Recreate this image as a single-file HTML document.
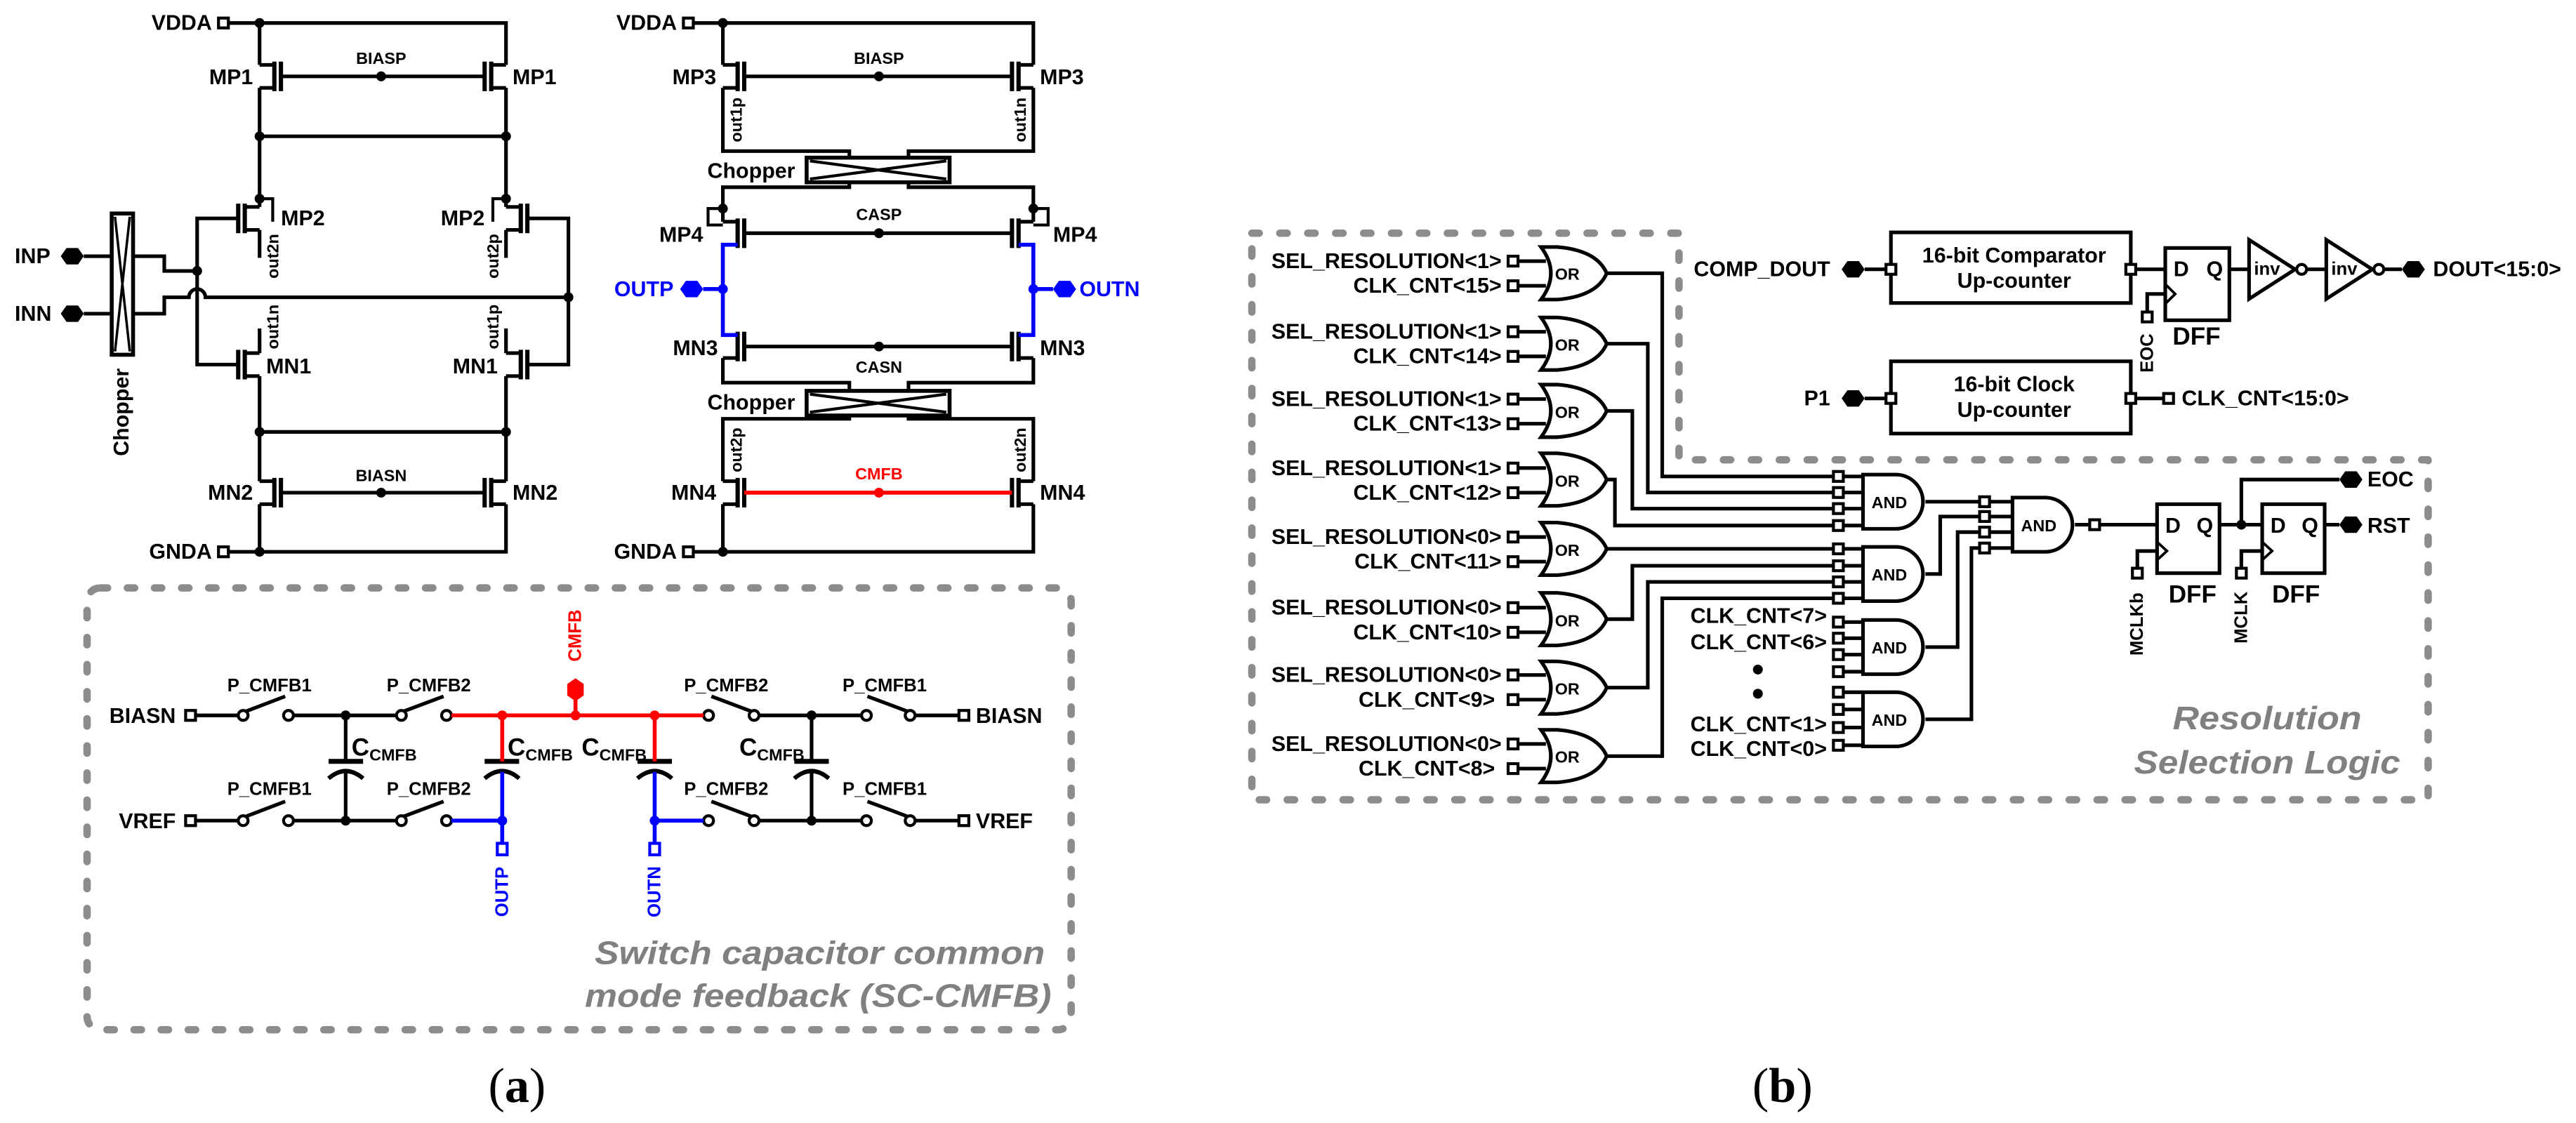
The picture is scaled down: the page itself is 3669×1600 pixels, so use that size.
<!DOCTYPE html>
<html><head><meta charset="utf-8"><style>
html,body{margin:0;padding:0;background:#fff;}
svg{display:block;}
text{font-family:"Liberation Sans",Arial,sans-serif;font-weight:bold;}
</style></head><body>
<svg width="3669" height="1600" viewBox="0 0 1568 683.8" preserveAspectRatio="none" xmlns="http://www.w3.org/2000/svg">
<defs>
<g id="t" fill="none" stroke="#000"><path d="M0,-7H9M0,7H9" stroke-width="2.2"/><path d="M9,-9V9M13,-9V9" stroke-width="2.6"/></g>
<polygon id="hx" points="-7,0 -3.5,-5 3.5,-5 7,0 3.5,5 -3.5,5"/>
<polygon id="hv" points="0,-7 -5,-3.5 -5,3.5 0,7 5,3.5 5,-3.5"/>
<rect id="sq" x="-3" y="-3" width="6" height="6" fill="#fff" stroke="#000" stroke-width="1.8"/>
<g id="org" fill="none" stroke="#000" stroke-width="2.2"><path d="M-3,-16 H7 Q31,-14 37,0 Q31,14 7,16 H-3 Q9,0 -3,-16Z" fill="#fff"/></g>
<g id="andg" fill="none" stroke="#000" stroke-width="2.2"><path d="M0,-16.5 H20 A16.5,16.5 0 0 1 20,16.5 H0Z" fill="#fff"/></g>
</defs>

<!-- ============ LEFT AMP ============ -->
<g fill="none" stroke="#000" stroke-width="2.2">
<path d="M139,14 H308 V39.5 M158,14 V39.5 M158,53.5 V126 M308,53.5 V126 M158,83 H308"/>
<path d="M158,140 V157 M308,140 V157 M158,200 V215 M308,200 V215 M158,229 V293 M308,229 V293 M158,263 H308"/>
<path d="M158,307 V336 M139,336 H308 V307"/>
<path d="M171,46.5 H295 M171,300 H295"/>
<path d="M145,133 H120 V222 H145 M321,133 H346 V222 H321"/>
<path d="M51,156 H68 M51,191 H68 M81,156 H100 V165 H120 M81,191 H100 V181 H115 A5,5 0 0 1 125,181 H346"/>
<path d="M158,121 H166 V135 M308,121 H300 V135" stroke-width="1.8"/>
<rect x="68" y="130" width="13" height="86" stroke-width="2.4"/>
<path d="M70,132 L79,214 M79,132 L70,214" stroke-width="1.5"/>
</g>
<use href="#t" transform="translate(158,46.5)"/>
<use href="#t" transform="translate(308,46.5) scale(-1,1)"/>
<use href="#t" transform="translate(158,133) scale(-1,1)"/>
<use href="#t" transform="translate(308,133)"/>
<use href="#t" transform="translate(158,222) scale(-1,1)"/>
<use href="#t" transform="translate(308,222)"/>
<use href="#t" transform="translate(158,300)"/>
<use href="#t" transform="translate(308,300) scale(-1,1)"/>
<g fill="#000">
<circle cx="158" cy="14" r="3"/><circle cx="158" cy="83" r="3"/><circle cx="308" cy="83" r="3"/>
<circle cx="158" cy="263" r="3"/><circle cx="308" cy="263" r="3"/><circle cx="158" cy="336" r="3"/>
<circle cx="232" cy="46.5" r="3"/><circle cx="232" cy="300" r="3"/><circle cx="120" cy="165" r="3"/>
<circle cx="346" cy="181" r="3"/><circle cx="158" cy="121" r="3"/><circle cx="308" cy="121" r="3"/>
<use href="#hx" x="44" y="156"/><use href="#hx" x="44" y="191"/>
</g>
<use href="#sq" x="136" y="14"/><use href="#sq" x="136" y="336"/>
<g font-size="13" dominant-baseline="central">
<text x="129" y="14" text-anchor="end">VDDA</text>
<text x="129" y="336" text-anchor="end">GNDA</text>
<text x="154" y="47" text-anchor="end">MP1</text>
<text x="312" y="47">MP1</text>
<text x="171" y="133">MP2</text>
<text x="295" y="133" text-anchor="end">MP2</text>
<text x="162" y="223">MN1</text>
<text x="303" y="223" text-anchor="end">MN1</text>
<text x="154" y="300" text-anchor="end">MN2</text>
<text x="312" y="300">MN2</text>
<text x="9" y="156">INP</text>
<text x="9" y="191">INN</text>
</g>
<g font-size="10" text-anchor="middle">
<text x="232" y="39">BIASP</text>
<text x="232" y="293">BIASN</text>
</g>
<g font-size="10" dominant-baseline="central" text-anchor="middle">
<text transform="translate(166,156) rotate(-90)">out2n</text>
<text transform="translate(166,199) rotate(-90)">out1n</text>
<text transform="translate(300,156) rotate(-90)">out2p</text>
<text transform="translate(300,199) rotate(-90)">out1p</text>
<text transform="translate(74,251) rotate(-90)" font-size="13">Chopper</text>
</g>

<!-- ============ RIGHT AMP ============ -->
<g fill="none" stroke="#000" stroke-width="2.2">
<path d="M422,14 H629 V39.5 M440,14 V39.5"/>
<path d="M440,53.5 V92 H517 V96 M629,53.5 V92 H553 V96"/>
<path d="M517,111 V114 H440 V135 M553,111 V114 H629 V135"/>
<path d="M453,46.5 H616 M453,142 H616 M453,211 H616"/>
<path d="M440,218 V233 H517 V238 M629,218 V233 H553 V238"/>
<path d="M517,252 V255 H440 V293 M553,252 V255 H629 V293"/>
<path d="M440,307 V336 M422,336 H629 V307"/>
<path d="M440,127 H431 V137 H440 M629,127 H638 V137 H629" stroke-width="1.8"/>
<rect x="491" y="96" width="87" height="15" stroke-width="2.4"/>
<path d="M493,98 L576,109 M493,109 L576,98" stroke-width="1.8"/>
<rect x="491" y="238" width="87" height="15" stroke-width="2.4"/>
<path d="M493,240 L576,251 M493,251 L576,240" stroke-width="1.8"/>
</g>
<use href="#t" transform="translate(440,46.5)"/>
<use href="#t" transform="translate(629,46.5) scale(-1,1)"/>
<use href="#t" transform="translate(440,142)"/>
<use href="#t" transform="translate(629,142) scale(-1,1)"/>
<use href="#t" transform="translate(440,211)"/>
<use href="#t" transform="translate(629,211) scale(-1,1)"/>
<use href="#t" transform="translate(440,300)"/>
<use href="#t" transform="translate(629,300) scale(-1,1)"/>
<path d="M453,300 H616" stroke="#f00" stroke-width="2.4"/>
<path d="M449,149 H440 V204 H449 M620,149 H629 V204 H620 M428,176 H440 M629,176 H641" fill="none" stroke="#00f" stroke-width="2.4"/>
<g fill="#000">
<circle cx="440" cy="14" r="3"/><circle cx="440" cy="336" r="3"/><circle cx="535" cy="46.5" r="3"/>
<circle cx="535" cy="142" r="3"/><circle cx="535" cy="211" r="3"/><circle cx="440" cy="127" r="3"/><circle cx="629" cy="127" r="3"/>
</g>
<circle cx="535" cy="300" r="3" fill="#f00"/>
<g fill="#00f"><circle cx="440" cy="176" r="3"/><circle cx="629" cy="176" r="3"/>
<use href="#hx" x="421" y="176"/><use href="#hx" x="648" y="176"/></g>
<use href="#sq" x="419" y="14"/><use href="#sq" x="419" y="336"/>
<g font-size="13" dominant-baseline="central">
<text x="412" y="14" text-anchor="end">VDDA</text>
<text x="412" y="336" text-anchor="end">GNDA</text>
<text x="436" y="47" text-anchor="end">MP3</text>
<text x="633" y="47">MP3</text>
<text x="428" y="143" text-anchor="end">MP4</text>
<text x="641" y="143">MP4</text>
<text x="437" y="212" text-anchor="end">MN3</text>
<text x="633" y="212">MN3</text>
<text x="436" y="300" text-anchor="end">MN4</text>
<text x="633" y="300">MN4</text>
<text x="484" y="104" text-anchor="end">Chopper</text>
<text x="484" y="245" text-anchor="end">Chopper</text>
<text x="410" y="176" text-anchor="end" fill="#00f">OUTP</text>
<text x="657" y="176" fill="#00f">OUTN</text>
</g>
<g font-size="10" text-anchor="middle">
<text x="535" y="39">BIASP</text>
<text x="535" y="134">CASP</text>
<text x="535" y="227">CASN</text>
<text x="535" y="292" fill="#f00">CMFB</text>
</g>
<g font-size="10" dominant-baseline="central" text-anchor="middle">
<text transform="translate(448,73) rotate(-90)">out1p</text>
<text transform="translate(621,73) rotate(-90)">out1n</text>
<text transform="translate(448,274) rotate(-90)">out2p</text>
<text transform="translate(621,274) rotate(-90)">out2n</text>
</g>

<!-- ============ SC-CMFB ============ -->
<rect x="53" y="358" width="599" height="269" rx="8" fill="none" stroke="#8c8c8c" stroke-width="4.5" stroke-dasharray="4.5 12" stroke-linecap="round"/>
<g fill="none" stroke="#000" stroke-width="2.2">
<path d="M119,435.6 H145 M178.6,435.6 H241.3 M462,435.6 H524.4 M557,435.6 H583.7"/>
<path d="M119,499.7 H145 M178.6,499.7 H241.3 M462,499.7 H524.4 M557,499.7 H583.7"/>
<path d="M150,433 L173.6,424 M246,433 L270,424 M457,433 L433,424 M552,433 L528,424"/>
<path d="M150,497 L173.6,488 M246,497 L270,488 M457,497 L433,488 M552,497 L528,488"/>
<path d="M210.4,435.6 V463.6 M210.4,470 V499.7 M494,435.6 V463.6 M494,470 V499.7"/>
<path d="M200,463.6 H221 M295,463.6 H316 M388,463.6 H409 M483.5,463.6 H504.5" stroke-width="3"/>
<path d="M200,474 Q210.4,465 221,474 M295,474 Q305.7,465 316,474 M388,474 Q398.5,465 409,474 M483.5,474 Q494,465 504.5,474" stroke-width="2.6"/>
</g>
<g fill="#fff" stroke="#000" stroke-width="1.8">
<circle cx="148" cy="435.6" r="3"/><circle cx="175.6" cy="435.6" r="3"/><circle cx="244.3" cy="435.6" r="3"/><circle cx="271.8" cy="435.6" r="3"/>
<circle cx="431.3" cy="435.6" r="3"/><circle cx="459" cy="435.6" r="3"/><circle cx="527.4" cy="435.6" r="3"/><circle cx="554" cy="435.6" r="3"/>
<circle cx="148" cy="499.7" r="3"/><circle cx="175.6" cy="499.7" r="3"/><circle cx="244.3" cy="499.7" r="3"/><circle cx="271.8" cy="499.7" r="3"/>
<circle cx="431.3" cy="499.7" r="3"/><circle cx="459" cy="499.7" r="3"/><circle cx="527.4" cy="499.7" r="3"/><circle cx="554" cy="499.7" r="3"/>
</g>
<path d="M274.8,435.6 H428.3 M305.7,435.6 V463.6 M398.5,435.6 V463.6 M350.3,426 V435.6" fill="none" stroke="#f00" stroke-width="2.4"/>
<path d="M274.8,499.7 H305.7 M398.5,499.7 H428.3 M305.7,470 V513.5 M398.5,470 V513.5" fill="none" stroke="#00f" stroke-width="2.4"/>
<g fill="#f00"><circle cx="305.7" cy="435.6" r="3"/><circle cx="350.3" cy="435.6" r="3"/><circle cx="398.5" cy="435.6" r="3"/><use href="#hv" x="350.3" y="420"/></g>
<g fill="#00f"><circle cx="305.7" cy="499.7" r="3"/><circle cx="398.5" cy="499.7" r="3"/></g>
<g fill="#000"><circle cx="210.4" cy="435.6" r="3"/><circle cx="210.4" cy="499.7" r="3"/><circle cx="494" cy="435.6" r="3"/><circle cx="494" cy="499.7" r="3"/></g>
<use href="#sq" x="116" y="435.6"/><use href="#sq" x="116" y="499.7"/><use href="#sq" x="586.7" y="435.6"/><use href="#sq" x="586.7" y="499.7"/>
<rect x="302.7" y="513.5" width="6" height="7" fill="#fff" stroke="#00f" stroke-width="1.8"/>
<rect x="395.5" y="513.5" width="6" height="7" fill="#fff" stroke="#00f" stroke-width="1.8"/>
<g font-size="13" dominant-baseline="central">
<text x="107" y="436" text-anchor="end">BIASN</text>
<text x="107" y="500" text-anchor="end">VREF</text>
<text x="594" y="436">BIASN</text>
<text x="594" y="500">VREF</text>
</g>
<g font-size="11" text-anchor="middle">
<text x="164" y="421">P_CMFB1</text><text x="261" y="421">P_CMFB2</text><text x="442" y="421">P_CMFB2</text><text x="538.5" y="421">P_CMFB1</text>
<text x="164" y="484">P_CMFB1</text><text x="261" y="484">P_CMFB2</text><text x="442" y="484">P_CMFB2</text><text x="538.5" y="484">P_CMFB1</text>
</g>
<g font-size="15">
<text x="214" y="460">C<tspan font-size="10" dy="3">CMFB</tspan></text>
<text x="309" y="460">C<tspan font-size="10" dy="3">CMFB</tspan></text>
<text x="354" y="460">C<tspan font-size="10" dy="3">CMFB</tspan></text>
<text x="450" y="460">C<tspan font-size="10" dy="3">CMFB</tspan></text>
</g>
<g font-size="11" dominant-baseline="central" text-anchor="middle">
<text transform="translate(350.3,387) rotate(-90)" fill="#f00">CMFB</text>
<text transform="translate(305.7,543) rotate(-90)" fill="#00f">OUTP</text>
<text transform="translate(398.5,543) rotate(-90)" fill="#00f">OUTN</text>
</g>
<g font-size="20" font-style="italic" fill="#808080" text-anchor="end">
<text x="636" y="587" textLength="274" lengthAdjust="spacingAndGlyphs">Switch capacitor common</text>
<text x="640" y="613" textLength="284" lengthAdjust="spacingAndGlyphs">mode feedback (SC-CMFB)</text>
</g>
<text x="314.7" y="671" font-size="30" text-anchor="middle" style="font-family:'Liberation Serif',serif;font-weight:normal">(<tspan font-weight="bold">a</tspan>)</text>
<text x="1085" y="671" font-size="30" text-anchor="middle" style="font-family:'Liberation Serif',serif;font-weight:normal">(<tspan font-weight="bold">b</tspan>)</text>

<!-- ============ (b) ============ -->
<path d="M762,142 H1022 V280 H1478 V487 H762 Z" fill="none" stroke="#8c8c8c" stroke-width="4.5" stroke-dasharray="4.5 12.5" stroke-linecap="round" stroke-linejoin="round"/>

<!-- OR gates -->
<g>
<use href="#org" x="941" y="166.4"/><use href="#org" x="941" y="209.3"/><use href="#org" x="941" y="250.2"/><use href="#org" x="941" y="292"/>
<use href="#org" x="941" y="334.2"/><use href="#org" x="941" y="377"/><use href="#org" x="941" y="418.7"/><use href="#org" x="941" y="460.4"/>
</g>
<g fill="none" stroke="#000" stroke-width="2.2">
<path d="M924,159 H941 M924,174 H941 M924,202 H941 M924,217 H941 M924,243 H941 M924,258 H941 M924,285 H941 M924,300 H941 M924,327 H941 M924,342 H941 M924,370 H941 M924,385 H941 M924,411 H941 M924,426 H941 M924,453 H941 M924,468 H941"/>
<path d="M978,166.4 H1011.8 V290.1 H1134 M978,209.3 H1003 V299.9 H1134 M978,250.2 H993.6 V309.7 H1134 M978,292 H983 V320 H1134"/>
<path d="M978,334.2 H1134 M978,377 H993.6 V344.5 H1134 M978,418.7 H1003 V354.3 H1134 M978,460.4 H1011.8 V364.3 H1134"/>
<path d="M1119,378.8 H1134 M1119,388.6 H1134 M1119,398.6 H1134 M1119,409 H1134 M1119,421.5 H1134 M1119,432 H1134 M1119,443 H1134 M1119,453.8 H1134"/>
<path d="M1172,305.5 H1225 M1172,349.5 H1181 V314.5 H1225 M1172,394 H1191.6 V324 H1225 M1172,438 H1200 V333.7 H1225"/>
<path d="M1263,319.5 H1313 M1351,319.5 H1377 M1364.3,319.5 V292 H1424 M1415,319.5 H1424"/>
<path d="M1301,346 V335.5 H1313 M1364.3,346 V335.5 H1377"/>
<rect x="1313" y="307" width="38" height="42" fill="#fff"/>
<rect x="1377" y="307" width="38" height="42" fill="#fff"/>
<path d="M1313,330 L1319,335.5 L1313,341 M1377,330 L1383,335.5 L1377,341" stroke-width="1.6"/>
</g>
<g>
<use href="#andg" x="1134" y="305.5"/><use href="#andg" x="1134" y="349.5"/><use href="#andg" x="1134" y="394"/><use href="#andg" x="1134" y="438"/>
<use href="#andg" x="1225" y="319.5"/>
</g>
<g>
<use href="#sq" x="921" y="159"/><use href="#sq" x="921" y="174"/><use href="#sq" x="921" y="202"/><use href="#sq" x="921" y="217"/>
<use href="#sq" x="921" y="243"/><use href="#sq" x="921" y="258"/><use href="#sq" x="921" y="285"/><use href="#sq" x="921" y="300"/>
<use href="#sq" x="921" y="327"/><use href="#sq" x="921" y="342"/><use href="#sq" x="921" y="370"/><use href="#sq" x="921" y="385"/>
<use href="#sq" x="921" y="411"/><use href="#sq" x="921" y="426"/><use href="#sq" x="921" y="453"/><use href="#sq" x="921" y="468"/>
<use href="#sq" x="1119" y="290.1"/><use href="#sq" x="1119" y="299.9"/><use href="#sq" x="1119" y="309.7"/><use href="#sq" x="1119" y="320"/>
<use href="#sq" x="1119" y="334.2"/><use href="#sq" x="1119" y="344.5"/><use href="#sq" x="1119" y="354.3"/><use href="#sq" x="1119" y="364.3"/>
<use href="#sq" x="1119" y="378.8"/><use href="#sq" x="1119" y="388.6"/><use href="#sq" x="1119" y="398.6"/><use href="#sq" x="1119" y="409"/>
<use href="#sq" x="1119" y="421.5"/><use href="#sq" x="1119" y="432"/><use href="#sq" x="1119" y="443"/><use href="#sq" x="1119" y="453.8"/>
<use href="#sq" x="1208" y="305.5"/><use href="#sq" x="1208" y="314.5"/><use href="#sq" x="1208" y="324"/><use href="#sq" x="1208" y="333.7"/>
<use href="#sq" x="1275" y="319.5"/><use href="#sq" x="1301" y="349"/><use href="#sq" x="1364.3" y="349"/>
</g>
<g fill="#000">
<circle cx="1364.3" cy="319.5" r="3"/><circle cx="1070" cy="407.7" r="3"/><circle cx="1070" cy="422.4" r="3"/>
<use href="#hx" x="1431" y="292"/><use href="#hx" x="1431" y="319.5"/>
</g>
<g font-size="13" dominant-baseline="central" text-anchor="end">
<text x="914" y="159">SEL_RESOLUTION&lt;1&gt;</text><text x="914" y="174">CLK_CNT&lt;15&gt;</text>
<text x="914" y="202">SEL_RESOLUTION&lt;1&gt;</text><text x="914" y="217">CLK_CNT&lt;14&gt;</text>
<text x="914" y="243">SEL_RESOLUTION&lt;1&gt;</text><text x="914" y="258">CLK_CNT&lt;13&gt;</text>
<text x="914" y="285">SEL_RESOLUTION&lt;1&gt;</text><text x="914" y="300">CLK_CNT&lt;12&gt;</text>
<text x="914" y="327">SEL_RESOLUTION&lt;0&gt;</text><text x="914" y="342">CLK_CNT&lt;11&gt;</text>
<text x="914" y="370">SEL_RESOLUTION&lt;0&gt;</text><text x="914" y="385">CLK_CNT&lt;10&gt;</text>
<text x="914" y="411">SEL_RESOLUTION&lt;0&gt;</text><text x="910" y="426">CLK_CNT&lt;9&gt;</text>
<text x="914" y="453">SEL_RESOLUTION&lt;0&gt;</text><text x="910" y="468">CLK_CNT&lt;8&gt;</text>
<text x="1112" y="375">CLK_CNT&lt;7&gt;</text><text x="1112" y="391">CLK_CNT&lt;6&gt;</text>
<text x="1112" y="441">CLK_CNT&lt;1&gt;</text><text x="1112" y="456">CLK_CNT&lt;0&gt;</text>
</g>
<g font-size="10" dominant-baseline="central" text-anchor="middle">
<text x="954" y="167">OR</text><text x="954" y="210">OR</text><text x="954" y="251">OR</text><text x="954" y="293">OR</text>
<text x="954" y="335">OR</text><text x="954" y="378">OR</text><text x="954" y="419.5">OR</text><text x="954" y="461">OR</text>
<text x="1150" y="306">AND</text><text x="1150" y="350">AND</text><text x="1150" y="394.5">AND</text><text x="1150" y="438.5">AND</text>
<text x="1241" y="320">AND</text>
</g>
<g font-size="13" dominant-baseline="central">
<text x="1318" y="320">D</text><text x="1337" y="320">Q</text>
<text x="1382" y="320">D</text><text x="1401" y="320">Q</text>
<text x="1441" y="292">EOC</text><text x="1441" y="320">RST</text>
<text x="1320" y="362" font-size="15">DFF</text><text x="1383" y="362" font-size="15">DFF</text>
</g>
<g font-size="11" dominant-baseline="central" text-anchor="middle">
<text transform="translate(1301,380) rotate(-90)">MCLKb</text>
<text transform="translate(1364.3,376) rotate(-90)">MCLK</text>
<text transform="translate(1307,215) rotate(-90)">EOC</text>
</g>
<g font-size="20" font-style="italic" fill="#808080" text-anchor="middle">
<text x="1380" y="444" textLength="115" lengthAdjust="spacingAndGlyphs">Resolution</text>
<text x="1380" y="471" textLength="162" lengthAdjust="spacingAndGlyphs">Selection Logic</text>
</g>

<!-- top: counters -->
<g fill="none" stroke="#000" stroke-width="2.2">
<rect x="1151" y="141.5" width="146" height="43" fill="#fff"/>
<rect x="1151" y="220" width="146" height="44" fill="#fff"/>
<path d="M1135,164 H1151 M1135,242.6 H1151 M1297,164 H1318 M1297,242.6 H1320 M1357,164 H1369 M1404.6,164 H1416 M1451,164 H1462"/>
<path d="M1307,190 V179 H1318"/>
<rect x="1318" y="151" width="39" height="44" fill="#fff"/>
<path d="M1318,173 L1324,179 L1318,185" stroke-width="1.6"/>
<path d="M1369,146 L1397,164 L1369,182 Z M1416,146 L1444,164 L1416,182 Z" fill="#fff"/>
<circle cx="1401" cy="164" r="3" fill="#fff" stroke-width="1.8"/><circle cx="1448" cy="164" r="3" fill="#fff" stroke-width="1.8"/>
</g>
<use href="#sq" x="1151" y="164"/><use href="#sq" x="1297" y="164"/><use href="#sq" x="1151" y="242.6"/><use href="#sq" x="1297" y="242.6"/>
<use href="#sq" x="1320" y="242.6"/><use href="#sq" x="1307" y="193"/>
<g fill="#000"><use href="#hx" x="1128" y="164"/><use href="#hx" x="1128" y="242.6"/><use href="#hx" x="1469" y="164"/></g>
<g font-size="13" dominant-baseline="central">
<text x="1114" y="164" text-anchor="end">COMP_DOUT</text>
<text x="1114" y="242.6" text-anchor="end">P1</text>
<text x="1328" y="242.6">CLK_CNT&lt;15:0&gt;</text>
<text x="1481" y="164">DOUT&lt;15:0&gt;</text>
<text x="1226" y="155.5" text-anchor="middle">16-bit Comparator</text>
<text x="1226" y="171" text-anchor="middle">Up-counter</text>
<text x="1226" y="234" text-anchor="middle">16-bit Clock</text>
<text x="1226" y="249.5" text-anchor="middle">Up-counter</text>
<text x="1323" y="164">D</text><text x="1343" y="164">Q</text>
<text x="1337" y="205" font-size="15" text-anchor="middle">DFF</text>
<text x="1372" y="164" font-size="11">inv</text><text x="1419" y="164" font-size="11">inv</text>
</g>
</svg>
</body></html>
